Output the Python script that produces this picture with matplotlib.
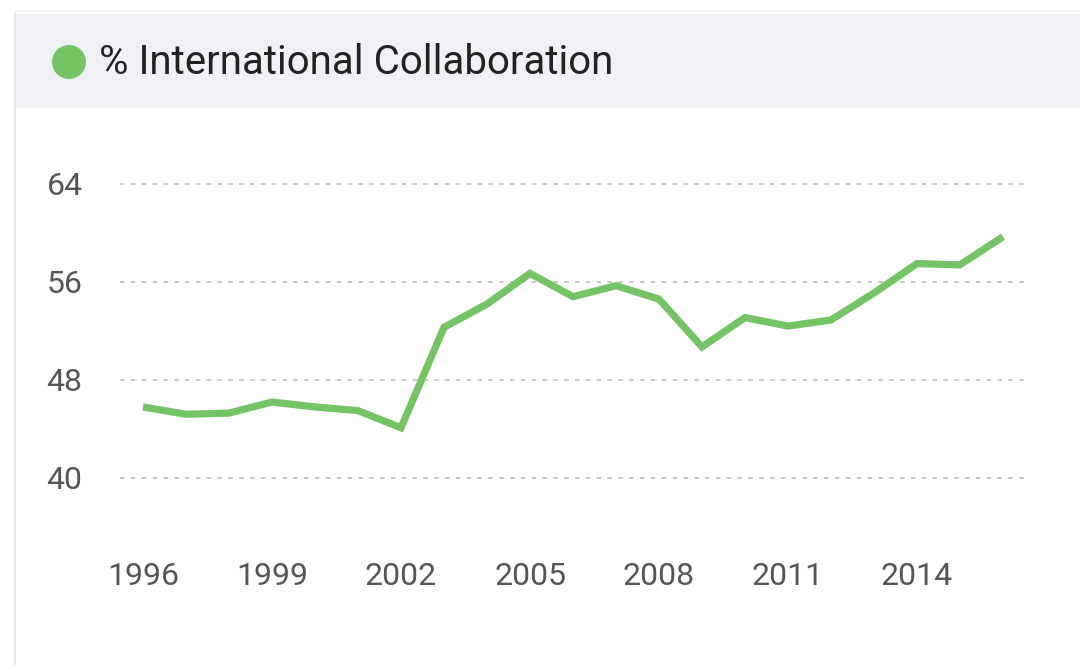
import matplotlib
matplotlib.use("Agg")
import matplotlib.pyplot as plt
from matplotlib.patches import Rectangle, Ellipse

years = list(range(1996, 2017))
values = [45.8, 45.2, 45.3, 46.2, 45.8, 45.5, 44.1, 52.3, 54.2, 56.7, 54.8,
          55.7, 54.6, 50.7, 53.1, 52.4, 52.9, 55.1, 57.5, 57.4, 59.7]
xticks = [1996, 1999, 2002, 2005, 2008, 2011, 2014]
yticks = [40, 48, 56, 64]
title = "% International Collaboration"

W, H = 1080, 665
fig = plt.figure(figsize=(W / 100, H / 100), dpi=100)
fig.patch.set_facecolor("white")

def fx(px):
    return px / W

def fy(py):
    return 1 - py / H

# card border / shadow and header band
fig.patches.append(Rectangle((fx(14), 0), fx(2), fy(12), transform=fig.transFigure,
                             facecolor="#e6e7ea", edgecolor="none", zorder=0))
fig.patches.append(Rectangle((fx(14), fy(12)), 1, fy(10) - fy(12), transform=fig.transFigure,
                             facecolor="#f3f4f6", edgecolor="none", zorder=0))
fig.patches.append(Rectangle((fx(16), fy(108)), 1, fy(14) - fy(108), transform=fig.transFigure,
                             facecolor="#f0f1f5", edgecolor="none", zorder=0))
fig.patches.append(Ellipse((fx(69), fy(62)), 34 / W, 34 / H, transform=fig.transFigure,
                           facecolor="#74c365", edgecolor="none", zorder=1))
fig.text(fx(99), fy(63), title, fontsize=29, family="Roboto", color="#222222",
         va="center", ha="left")

# axes
ax_left, ax_right = 120, 1025
ax_top, ax_bottom = 160, 520
ax = fig.add_axes([fx(ax_left), fy(ax_bottom), fx(ax_right - ax_left), fy(ax_top) - fy(ax_bottom)])
ax.set_facecolor("none")
ppy = 12.25
ax.set_ylim(40 - (ax_bottom - 478) / ppy, 64 + (184 - ax_top) / ppy)
ppx = 43.0
ax.set_xlim(1996 - (143 - ax_left) / ppx, 2016 + (ax_right - 1003) / ppx)

for v in yticks:
    ax.axhline(v, color="#c4c4c4", linewidth=1.3, linestyle=(0, (2.5, 3.5)), zorder=1)

ax.plot(years, values, color="#74c365", linewidth=5.2, solid_joinstyle="miter",
        solid_capstyle="butt", zorder=3)

ax.set_yticks(yticks)
ax.set_yticklabels([str(v) for v in yticks], fontsize=23, family="Roboto", color="#555555")
ax.set_xticks(xticks)
ax.set_xticklabels([str(v) for v in xticks], fontsize=23, family="Roboto", color="#555555")
ax.tick_params(axis="y", length=0, pad=27)
ax.tick_params(axis="x", length=0, pad=30)
for s in ax.spines.values():
    s.set_visible(False)

fig.savefig("out.png", dpi=100)
